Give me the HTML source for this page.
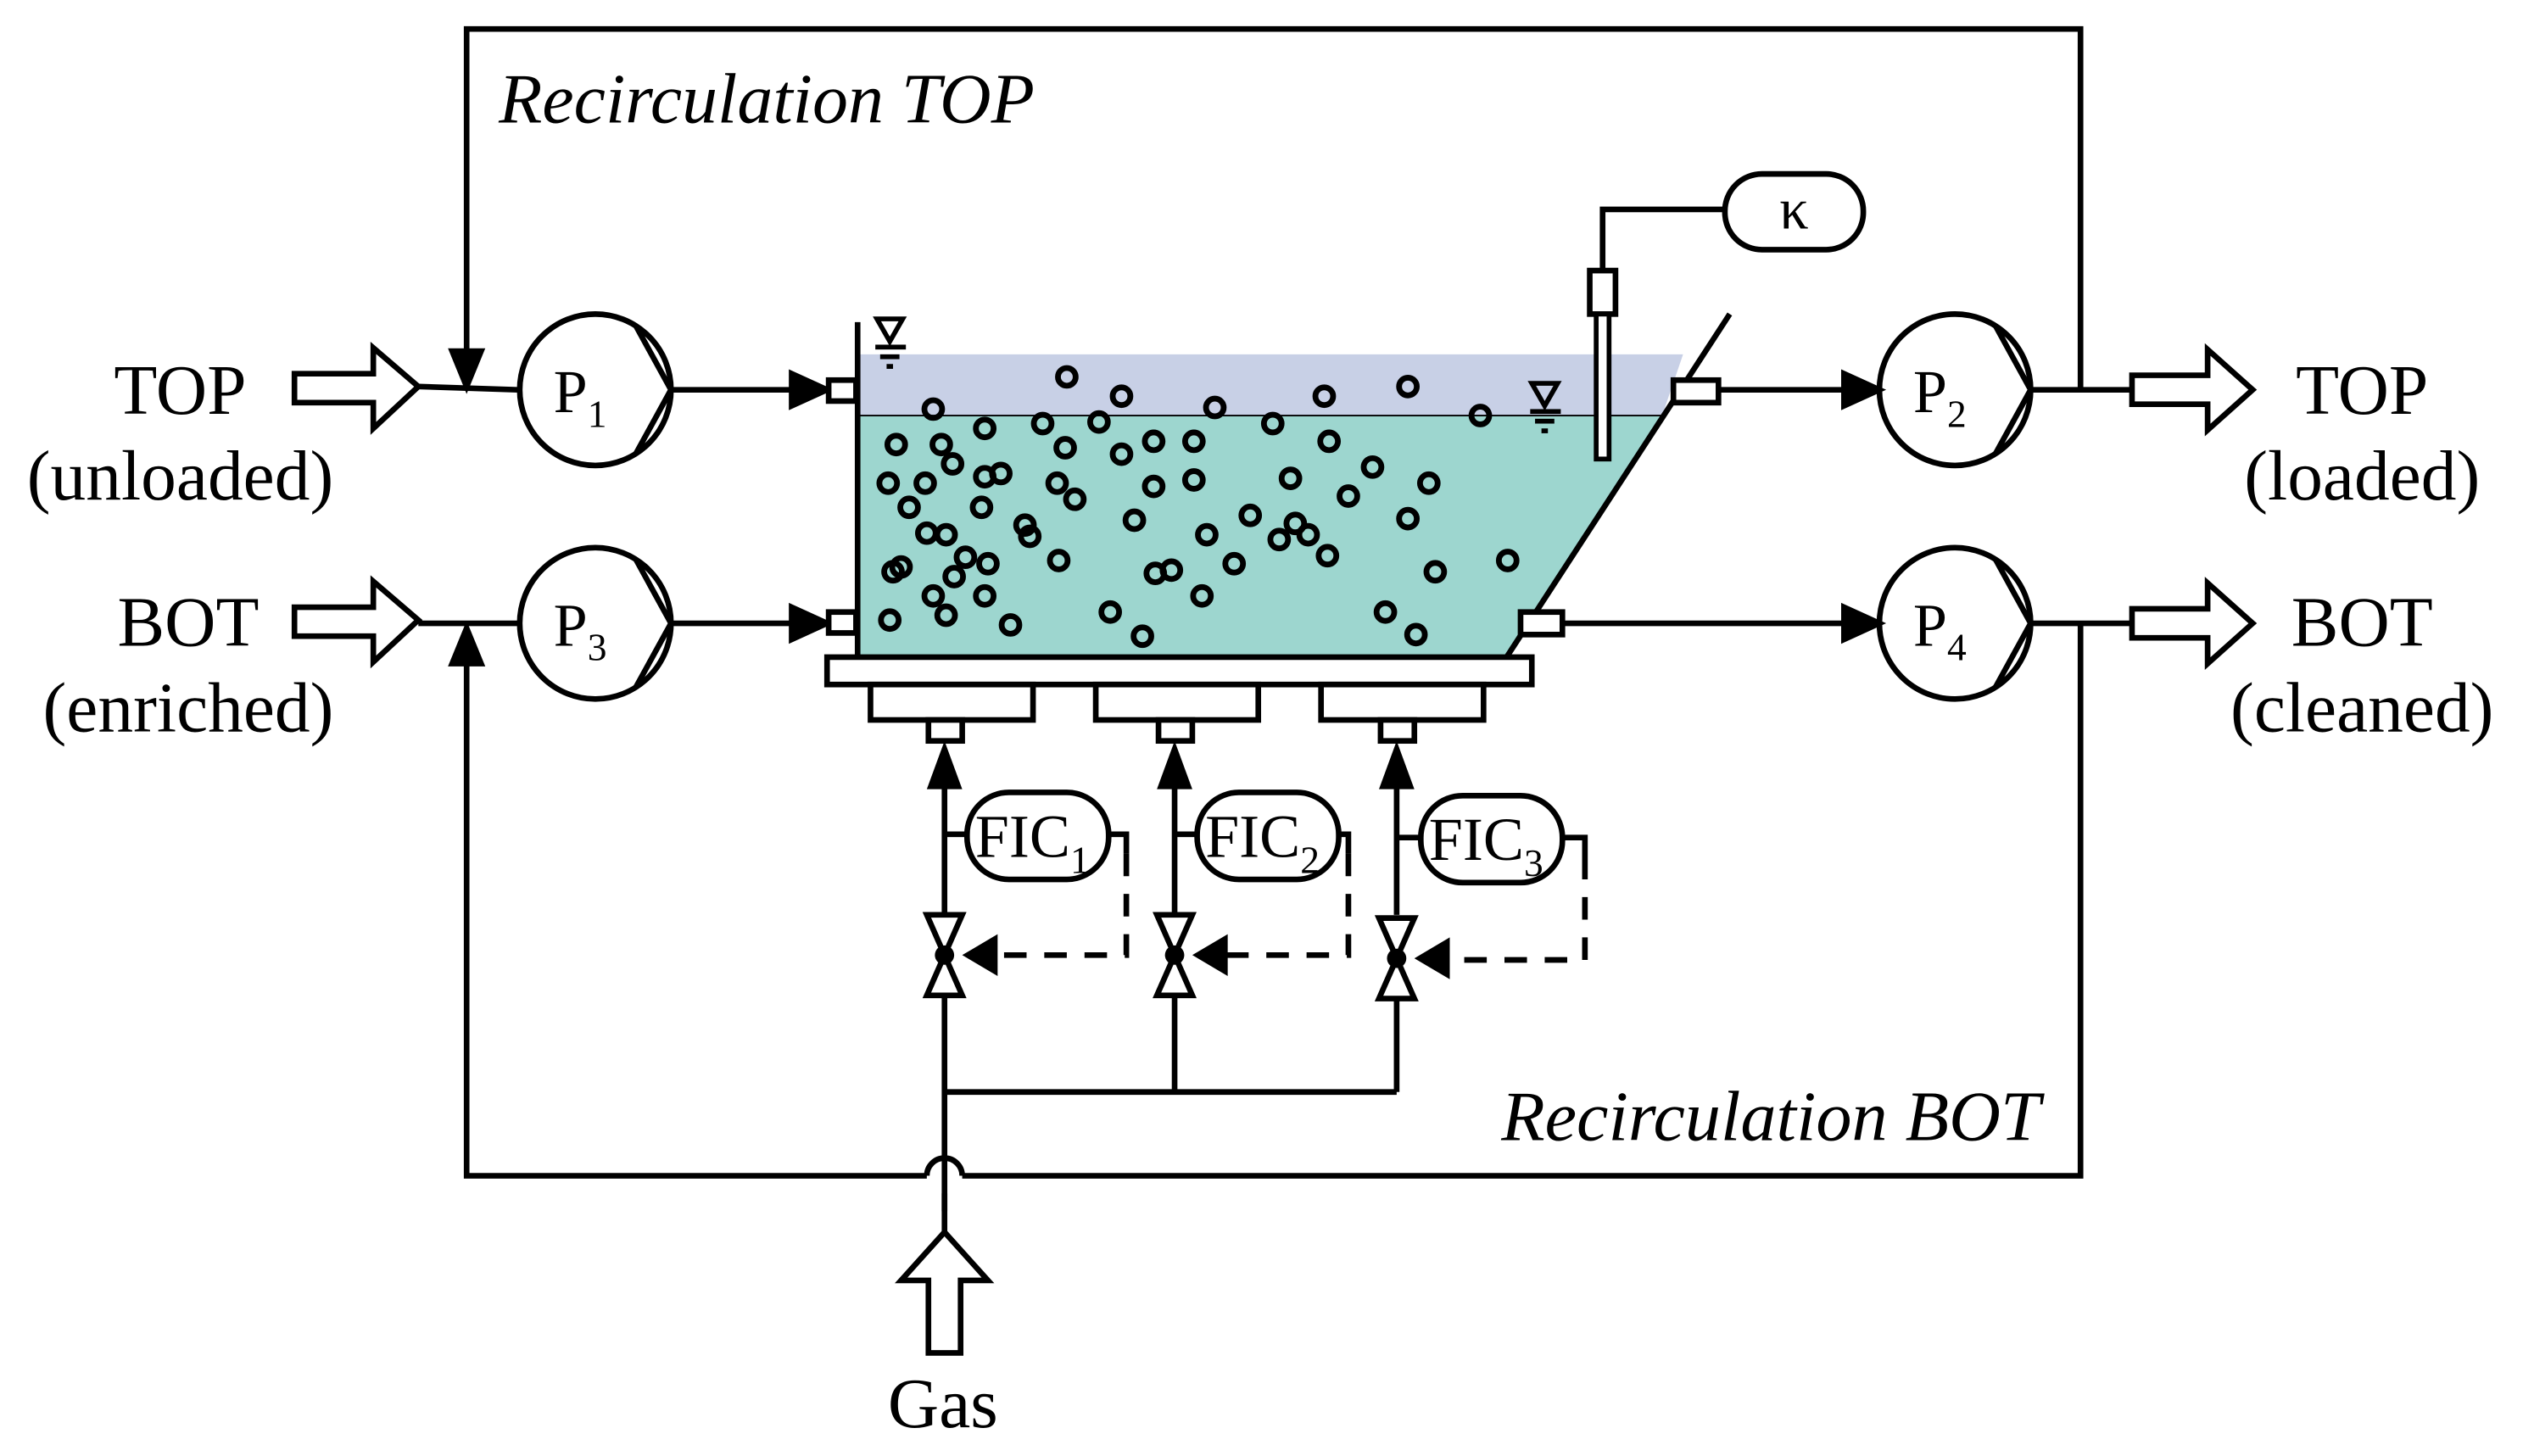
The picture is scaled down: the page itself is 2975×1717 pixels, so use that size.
<!DOCTYPE html>
<html><head><meta charset="utf-8"><style>
html,body{margin:0;padding:0;background:#fff;}
svg{display:block;}
text{font-family:"Liberation Serif",serif;fill:#000;}
</style></head><body>
<svg width="2975" height="1717" viewBox="0 0 1568 904" preserveAspectRatio="none" xmlns="http://www.w3.org/2000/svg">
<g stroke="#000" stroke-width="3.5" fill="none">
<polyline points="290,222 290,18 1293,18 1293,242"/>
<polygon points="290,240 281,218 299,218" fill="#000"/>
<polyline points="1293,387 1293,730 598,730"/>
<path d="M598,730 A11,11 0 0 0 576,730"/>
<polyline points="576,730 290,730 290,408"/>
<polygon points="290,390 281,412 299,412" fill="#000"/>

<polygon points="183,232 232,232 232,216 260,240 232,266 232,250 183,250" fill="#fff"/>
<line x1="260" y1="240" x2="322" y2="242"/>
<polygon points="183,377 232,377 232,361 260,385 232,411 232,395 183,395" fill="#fff"/>
<line x1="260" y1="387" x2="322" y2="387"/>

<circle cx="370" cy="242" r="47" fill="#fff"/>
<polyline points="395,202 417,242 395,282"/>
<circle cx="370" cy="387" r="47" fill="#fff"/>
<polyline points="395,347 417,387 395,427"/>
<circle cx="1215" cy="242" r="47" fill="#fff"/>
<polyline points="1240,202 1262,242 1240,282"/>
<circle cx="1215" cy="387" r="47" fill="#fff"/>
<polyline points="1240,347 1262,387 1240,427"/>

<line x1="417" y1="242" x2="495" y2="242"/>
<polygon points="514,242 492,232 492,252" fill="#000"/>
<line x1="417" y1="387" x2="495" y2="387"/>
<polygon points="514,387 492,377 492,397" fill="#000"/>
</g>

<polygon points="534,220 1046,220 1033,258 534,258" fill="#c8d0e6"/>
<polygon points="534,258 1033,258 935,408 534,408" fill="#9dd6cf"/>
<line x1="534" y1="258" x2="1033" y2="258" stroke="#000" stroke-width="1"/>

<g stroke="#000" stroke-width="3.5" fill="none">
<line x1="533" y1="200" x2="533" y2="410"/>
<line x1="1075" y1="195" x2="935" y2="410"/>
<rect x="515" y="236" width="17" height="13" fill="#fff"/>
<rect x="515" y="380" width="17" height="13" fill="#fff"/>
<rect x="1040" y="236" width="28" height="14" fill="#fff"/>
<rect x="945" y="380" width="26" height="14" fill="#fff"/>
<rect x="514" y="408" width="438" height="17" fill="#fff"/>
<rect x="541" y="425" width="101" height="22" fill="#fff"/>
<rect x="681" y="425" width="101" height="22" fill="#fff"/>
<rect x="821" y="425" width="101" height="22" fill="#fff"/>
<rect x="577" y="447" width="21" height="13" fill="#fff"/>
<rect x="720" y="447" width="21" height="13" fill="#fff"/>
<rect x="858" y="447" width="21" height="13" fill="#fff"/>

<line x1="1068" y1="242" x2="1150" y2="242"/>
<polygon points="1168,242 1146,232 1146,252" fill="#000"/>
<line x1="971" y1="387" x2="1150" y2="387"/>
<polygon points="1168,387 1146,377 1146,397" fill="#000"/>
<line x1="1262" y1="242" x2="1325" y2="242"/>
<line x1="1262" y1="387" x2="1325" y2="387"/>
<polygon points="1325,233 1372,233 1372,217 1400,242 1372,267 1372,251 1325,251" fill="#fff"/>
<polygon points="1325,378 1372,378 1372,362 1400,387 1372,412 1372,396 1325,396" fill="#fff"/>

<polyline points="996,168 996,130 1072,130"/>
<rect x="988" y="168" width="16" height="27" fill="#fff"/>
<rect x="992" y="195" width="8" height="90" fill="#fff" stroke-width="3"/>
<rect x="1072" y="108" width="86" height="47" rx="23" fill="#fff"/>
</g>

<g fill="#000">
<polygon points="545,198 561,198 553,212" fill="none" stroke="#000" stroke-width="3"/>
<rect x="544" y="214" width="19" height="3"/><rect x="547" y="220" width="12" height="3"/><rect x="551" y="226" width="4" height="3"/>
<polygon points="952,238 968,238 960,252" fill="none" stroke="#000" stroke-width="3"/>
<rect x="951" y="254" width="19" height="3"/><rect x="954" y="260" width="12" height="3"/><rect x="958" y="266" width="4" height="3"/>
</g>

<g stroke="#000" stroke-width="3.6" fill="none">
<circle cx="580" cy="254" r="5.5"/><circle cx="663" cy="234" r="5.5"/><circle cx="697" cy="246" r="5.5"/><circle cx="755" cy="253" r="5.5"/><circle cx="823" cy="246" r="5.5"/><circle cx="875" cy="240" r="5.5"/>
<circle cx="557" cy="276" r="5.5"/><circle cx="585" cy="276" r="5.5"/><circle cx="612" cy="266" r="5.5"/><circle cx="648" cy="263" r="5.5"/><circle cx="683" cy="262" r="5.5"/><circle cx="662" cy="278" r="5.5"/><circle cx="717" cy="274" r="5.5"/><circle cx="742" cy="274" r="5.5"/><circle cx="791" cy="263" r="5.5"/><circle cx="826" cy="274" r="5.5"/><circle cx="920" cy="258" r="5.5"/>
<circle cx="552" cy="300" r="5.5"/><circle cx="575" cy="300" r="5.5"/><circle cx="592" cy="288" r="5.5"/><circle cx="612" cy="296" r="5.5"/><circle cx="622" cy="294" r="5.5"/><circle cx="657" cy="300" r="5.5"/><circle cx="697" cy="282" r="5.5"/><circle cx="717" cy="302" r="5.5"/><circle cx="742" cy="298" r="5.5"/><circle cx="802" cy="297" r="5.5"/><circle cx="853" cy="290" r="5.5"/><circle cx="888" cy="300" r="5.5"/>
<circle cx="565" cy="315" r="5.5"/><circle cx="610" cy="315" r="5.5"/><circle cx="637" cy="326" r="5.5"/><circle cx="640" cy="333" r="5.5"/><circle cx="668" cy="310" r="5.5"/><circle cx="705" cy="323" r="5.5"/><circle cx="750" cy="332" r="5.5"/><circle cx="777" cy="320" r="5.5"/><circle cx="805" cy="325" r="5.5"/><circle cx="813" cy="332" r="5.5"/><circle cx="795" cy="335" r="5.5"/><circle cx="838" cy="308" r="5.5"/><circle cx="875" cy="322" r="5.5"/>
<circle cx="576" cy="331" r="5.5"/><circle cx="588" cy="332" r="5.5"/><circle cx="555" cy="355" r="5.5"/><circle cx="560" cy="352" r="5.5"/><circle cx="600" cy="346" r="5.5"/><circle cx="614" cy="350" r="5.5"/><circle cx="593" cy="358" r="5.5"/><circle cx="658" cy="348" r="5.5"/><circle cx="718" cy="356" r="5.5"/><circle cx="728" cy="354" r="5.5"/><circle cx="767" cy="350" r="5.5"/><circle cx="825" cy="345" r="5.5"/><circle cx="892" cy="355" r="5.5"/><circle cx="937" cy="348" r="5.5"/>
<circle cx="553" cy="385" r="5.5"/><circle cx="580" cy="370" r="5.5"/><circle cx="588" cy="382" r="5.5"/><circle cx="612" cy="370" r="5.5"/><circle cx="628" cy="388" r="5.5"/><circle cx="690" cy="380" r="5.5"/><circle cx="710" cy="395" r="5.5"/><circle cx="747" cy="370" r="5.5"/><circle cx="861" cy="380" r="5.5"/><circle cx="880" cy="394" r="5.5"/>
</g>

<g stroke="#000" stroke-width="3.5" fill="none">
<line x1="587" y1="485" x2="587" y2="568"/><line x1="730" y1="485" x2="730" y2="568"/><line x1="868" y1="485" x2="868" y2="568"/>
<line x1="587" y1="618" x2="587" y2="752"/>
<line x1="587" y1="678" x2="868" y2="678"/>
<line x1="730" y1="618" x2="730" y2="678"/><line x1="868" y1="618" x2="868" y2="678"/>
<line x1="587" y1="741" x2="587" y2="765"/>
<line x1="587" y1="518" x2="601" y2="518"/><line x1="730" y1="518" x2="744" y2="518"/><line x1="868" y1="520" x2="883" y2="520"/>
<rect x="601" y="492" width="88" height="54" rx="26" fill="#fff"/>
<rect x="744" y="492" width="88" height="54" rx="26" fill="#fff"/>
<rect x="883" y="494" width="88" height="54" rx="26" fill="#fff"/>
<polyline points="689,518 700,518 700,530"/>
<polyline points="832,518 838,518 838,530"/>
<polyline points="971,520 985,520 985,532"/>
<g stroke-dasharray="14,11">
<polyline points="700,530 700,593 612,593"/>
<polyline points="838,530 838,593 753,593"/>
<polyline points="985,532 985,596 890,596"/>
</g>
<polygon points="576,568 598,568 587,593" fill="#fff"/><polygon points="576,618 598,618 587,593" fill="#fff"/>
<polygon points="719,568 741,568 730,593" fill="#fff"/><polygon points="719,618 741,618 730,593" fill="#fff"/>
<polygon points="857,570 879,570 868,595" fill="#fff"/><polygon points="857,620 879,620 868,595" fill="#fff"/>
<polygon points="587,765 614,795 597,795 597,840 577,840 577,795 560,795" fill="#fff"/>
</g>
<g fill="#000">
<circle cx="587" cy="593" r="6"/><circle cx="730" cy="593" r="6"/><circle cx="868" cy="595" r="6"/>
<polygon points="598,593 620,580 620,606"/><polygon points="741,593 763,580 763,606"/><polygon points="879,595 901,582 901,608"/>
<polygon points="587,460 576,490 598,490"/><polygon points="730,460 719,490 741,490"/><polygon points="868,460 857,490 879,490"/>
</g>

<g font-size="44">
<text x="310" y="76" font-style="italic" textLength="333" lengthAdjust="spacingAndGlyphs">Recirculation TOP</text>
<text x="933" y="708" font-style="italic" textLength="335" lengthAdjust="spacingAndGlyphs">Recirculation BOT</text>
<text x="112" y="257" text-anchor="middle">TOP</text>
<text x="112" y="310" text-anchor="middle">(unloaded)</text>
<text x="117" y="401" text-anchor="middle">BOT</text>
<text x="117" y="454" text-anchor="middle">(enriched)</text>
<text x="1468" y="257" text-anchor="middle">TOP</text>
<text x="1468" y="310" text-anchor="middle">(loaded)</text>
<text x="1468" y="401" text-anchor="middle">BOT</text>
<text x="1468" y="454" text-anchor="middle">(cleaned)</text>
<text x="586" y="886" text-anchor="middle">Gas</text>
</g>
<g font-size="38">
<text x="344" y="256">P<tspan font-size="24" dy="9">1</tspan></text>
<text x="344" y="401">P<tspan font-size="24" dy="9">3</tspan></text>
<text x="1189" y="256">P<tspan font-size="24" dy="9">2</tspan></text>
<text x="1189" y="401">P<tspan font-size="24" dy="9">4</tspan></text>
<text x="606" y="532">FIC<tspan font-size="24" dy="10">1</tspan></text>
<text x="749" y="532">FIC<tspan font-size="24" dy="10">2</tspan></text>
<text x="888" y="534">FIC<tspan font-size="24" dy="10">3</tspan></text>
<text x="1115" y="142" text-anchor="middle" font-size="36">κ</text>
</g>
</svg>
</body></html>
